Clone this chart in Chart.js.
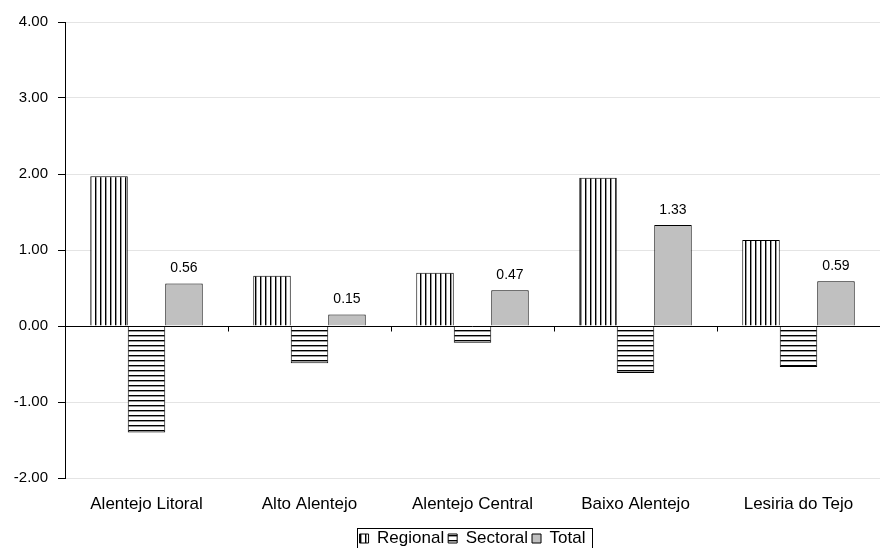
<!DOCTYPE html>
<html>
<head>
<meta charset="utf-8">
<script src="https://cdn.jsdelivr.net/npm/chart.js@4"></script>
<style>
  html, body { margin: 0; padding: 0; background: #fff; }
  #wrap { width: 880px; height: 548px; }
</style>
</head>
<body>
<div id="wrap"><canvas id="c"></canvas></div>
<script>
// data
const regions = ['Alentejo Litoral', 'Alto Alentejo', 'Alentejo Central', 'Baixo Alentejo', 'Lesiria do Tejo'];
const regional = [1.97, 0.66, 0.70, 1.95, 1.13];
const sectoral = [-1.40, -0.49, -0.22, -0.62, -0.54];
const total = [0.56, 0.15, 0.47, 1.33, 0.59];

const FONT = '"Liberation Sans", Arial, sans-serif';

// hatch fills
function stripes(vertical) {
  const p = document.createElement('canvas');
  p.width = 5; p.height = 5;
  const g = p.getContext('2d');
  g.fillStyle = '#fff'; g.fillRect(0, 0, 5, 5);
  g.fillStyle = '#000';
  if (vertical) g.fillRect(0, 0, 1, 5); else g.fillRect(0, 0, 5, 1);
  g.fillStyle = '#999';
  if (vertical) g.fillRect(1, 0, 1, 5); else g.fillRect(0, 1, 5, 1);
  return g.createPattern(p, 'repeat');
}
const vFill = stripes(true);
const hFill = stripes(false);

// zero line, category separators, legend frame, value labels
const extras = {
  id: 'extras',
  afterDatasetsDraw(chart) {
    const ctx = chart.ctx, y = chart.scales.y, a = chart.chartArea;
    const y0 = Math.round(y.getPixelForValue(0)) + 0.5;
    ctx.save();
    ctx.strokeStyle = '#000'; ctx.lineWidth = 1;
    ctx.beginPath();
    ctx.moveTo(a.left, y0); ctx.lineTo(a.right, y0);
    const step = (a.right - a.left) / regions.length;
    for (let i = 1; i < regions.length; i++) {
      const px = Math.round(a.left + step * i) + 0.5;
      ctx.moveTo(px, y0); ctx.lineTo(px, y0 + 5);
    }
    ctx.stroke();

    // Total labels
    const meta = chart.getDatasetMeta(2);
    ctx.fillStyle = '#000';
    ctx.font = '14px ' + FONT;
    ctx.textAlign = 'center'; ctx.textBaseline = 'bottom';
    meta.data.forEach((bar, i) => {
      ctx.fillText(total[i].toFixed(2), bar.x, bar.y - 8);
    });

    // legend box
    const lg = chart.legend;
    if (lg && lg.legendHitBoxes.length) {
      const boxes = lg.legendHitBoxes;
      const last = boxes[boxes.length - 1];
      const l = boxes[0].left - 3, r = last.left + last.width + 6;
      const t = boxes[0].top - 2;
      ctx.strokeRect(Math.round(l) + 0.5, Math.round(t) + 0.5, Math.round(r - l), 30);
    }
    ctx.restore();
  }
};

new Chart(document.getElementById('c'), {
  type: 'bar',
  data: {
    labels: regions,
    datasets: [
      { label: 'Regional', data: regional, backgroundColor: vFill, borderColor: '#000', borderWidth: 1 },
      { label: 'Sectoral', data: sectoral, backgroundColor: hFill, borderColor: '#000', borderWidth: 1 },
      { label: 'Total', data: total, backgroundColor: '#c0c0c0', borderColor: '#000', borderWidth: 1 }
    ]
  },
  options: {
    responsive: true,
    maintainAspectRatio: false,
    animation: false,
    events: [],
    layout: { padding: { top: 22, right: 0, left: 0, bottom: -9 } },
    datasets: { bar: { categoryPercentage: 0.69, barPercentage: 1.0 } },
    plugins: {
      legend: {
        position: 'bottom',
        fullSize: false,
        labels: {
          boxWidth: 9, boxHeight: 9, padding: 4,
          color: '#000',
          font: { family: FONT, size: 17 }
        }
      },
      tooltip: { enabled: false }
    },
    scales: {
      x: {
        grid: { display: false },
        border: { display: false },
        afterFit: s => { s.height = 48; },
        ticks: { color: '#000', padding: 8, font: { family: FONT, size: 17 } }
      },
      y: {
        min: -2, max: 4,
        afterFit: s => { s.width = 65; },
        grid: { color: '#e4e4e4', tickColor: '#000', tickLength: 7 },
        border: { color: '#000' },
        ticks: {
          stepSize: 1, color: '#000', padding: 10,
          font: { family: FONT, size: 15 },
          callback: v => v.toFixed(2)
        }
      }
    }
  },
  plugins: [extras]
});
</script>
</body>
</html>
